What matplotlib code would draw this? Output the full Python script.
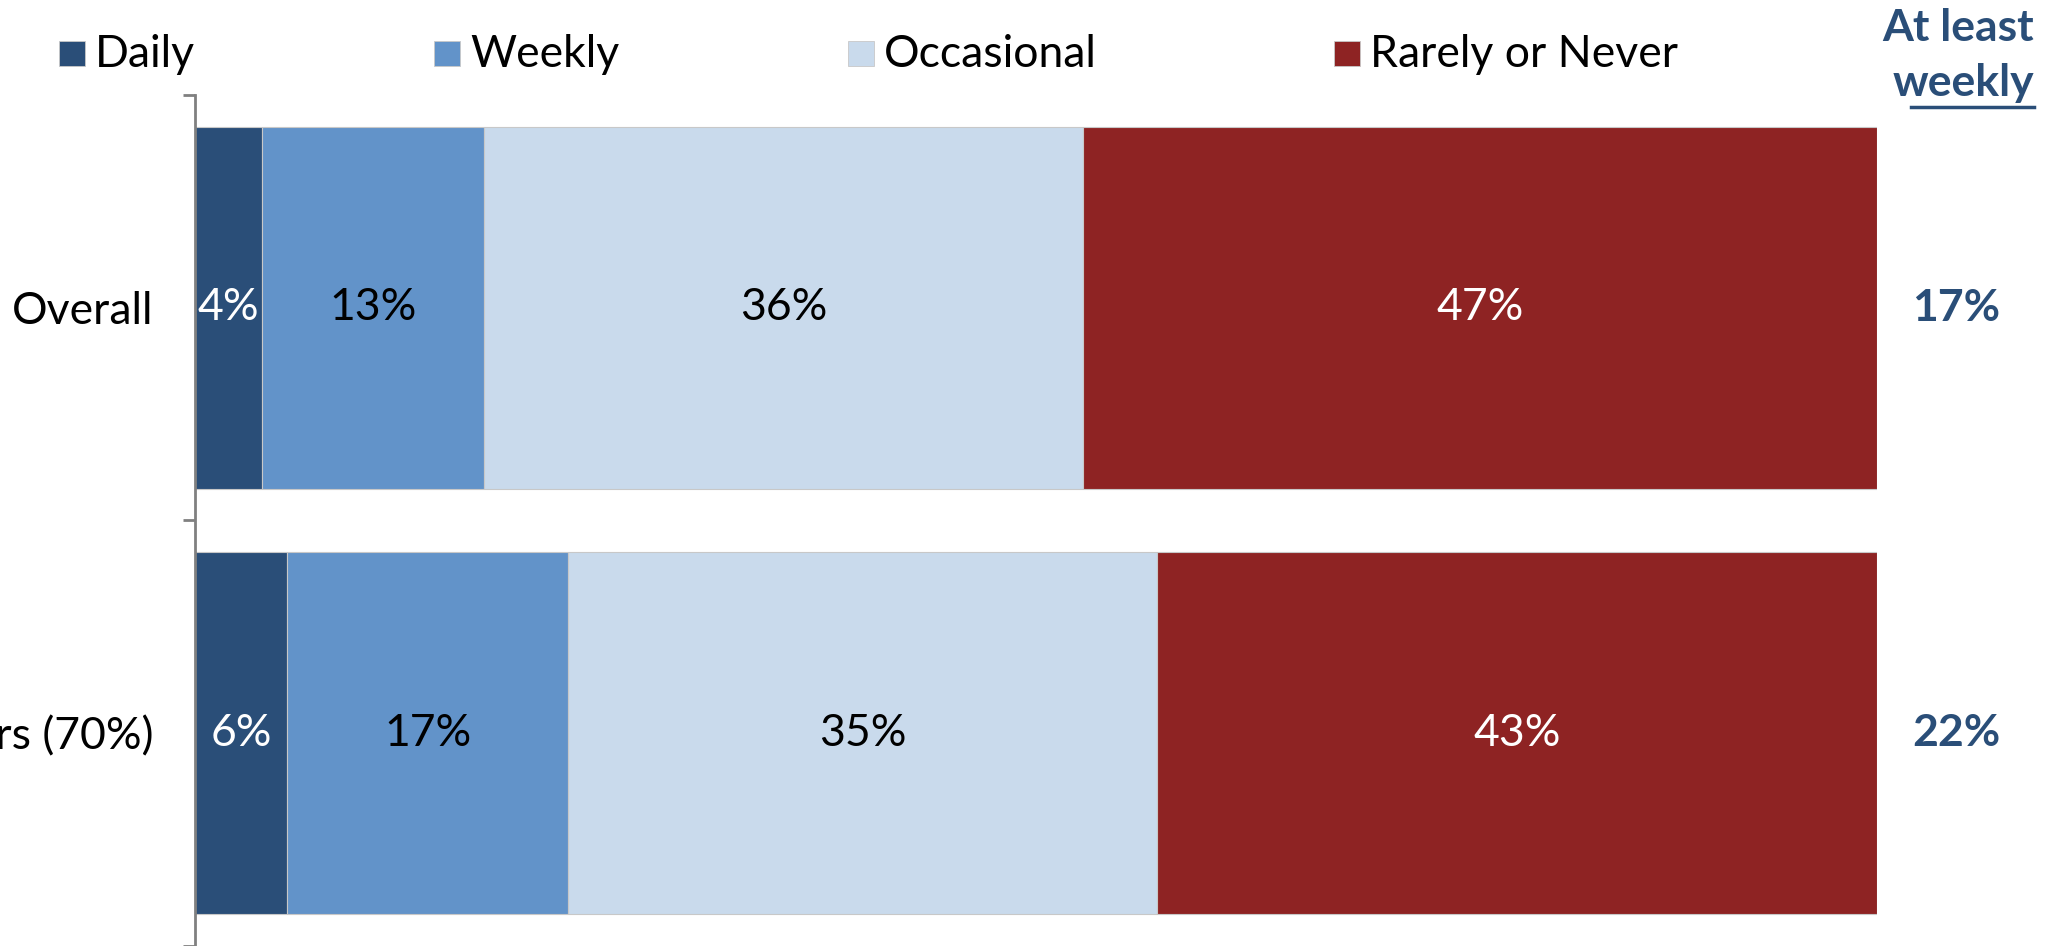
import matplotlib
matplotlib.use("Agg")
import matplotlib.pyplot as plt
from matplotlib.patches import Rectangle
from matplotlib.lines import Line2D

plt.rcParams['font.family'] = ['Lato', 'DejaVu Sans']

# data
groups = ['Overall', 'Internet users (70%)']
series = ['Daily', 'Weekly', 'Occasional', 'Rarely or Never']
daily = [4.0, 5.5]
weekly = [13.2, 16.7]
occasional = [35.6, 35.0]
rarely = [47.2, 42.8]
weekly_plus = [d + w for d, w in zip(daily, weekly)]

colors = ['#2A4E78', '#6293C9', '#C9DAEC', '#8E2323']
label_colors = ['white', 'black', 'black', 'white']
blue_txt = '#2A4E78'
fs = 32

fig = plt.figure(figsize=(20.61, 9.46), dpi=100)
ax = fig.add_axes([0.0946, 0.0, 0.8161, 0.8996])

left = [0.0] * len(groups)
for vals, c, tc in zip([daily, weekly, occasional, rarely], colors, label_colors):
    bars = ax.barh(range(len(groups)), vals, left=left, height=0.85,
                   color=c, edgecolor='#c8c8c8', linewidth=0.8)
    for b, v in zip(bars, vals):
        ax.text(b.get_x() + b.get_width() / 2, b.get_y() + b.get_height() / 2,
                f"{v:.0f}%", ha='center', va='center', color=tc, fontsize=fs)
    left = [l + v for l, v in zip(left, vals)]

ax.set_xlim(0, 100)
ax.set_ylim(len(groups) - 0.5, -0.5)
ax.set_xticks([])
ax.set_yticks(range(len(groups)))
ax.set_yticklabels(groups, fontsize=fs)
ax.tick_params(axis='y', which='major', length=0, pad=30)
ax.set_yticks([i - 0.5 for i in range(len(groups) + 1)], minor=True)
ax.tick_params(axis='y', which='minor', length=9, width=2, color='#808080')
for s in ['top', 'right', 'bottom']:
    ax.spines[s].set_visible(False)
ax.spines['left'].set_color('#808080')
ax.spines['left'].set_linewidth(2)

# at least weekly column
for i, v in enumerate(weekly_plus):
    ax.text(104.7, i, f"{v:.0f}%", ha='center', va='center', color=blue_txt,
            fontsize=fs, fontweight='bold', clip_on=False)
fig.text(0.987, 0.970, 'At least', ha='right', va='center', color=blue_txt,
         fontsize=fs, fontweight='bold')
fig.text(0.987, 0.912, 'weekly', ha='right', va='center', color=blue_txt,
         fontsize=fs, fontweight='bold')
fig.add_artist(Line2D([0.927, 0.987], [0.887, 0.887], color=blue_txt, lw=2.5))

# legend across the top
leg_x = [0.0286, 0.2106, 0.4115, 0.6473]
for x, name, c in zip(leg_x, series, colors):
    fig.add_artist(Rectangle((x, 0.930), 0.0126, 0.027, facecolor=c,
                             edgecolor='#c8c8c8', linewidth=0.6))
    fig.text(x + 0.0175, 0.942, name, ha='left', va='center', fontsize=fs)

fig.savefig('out.png', dpi=100)
